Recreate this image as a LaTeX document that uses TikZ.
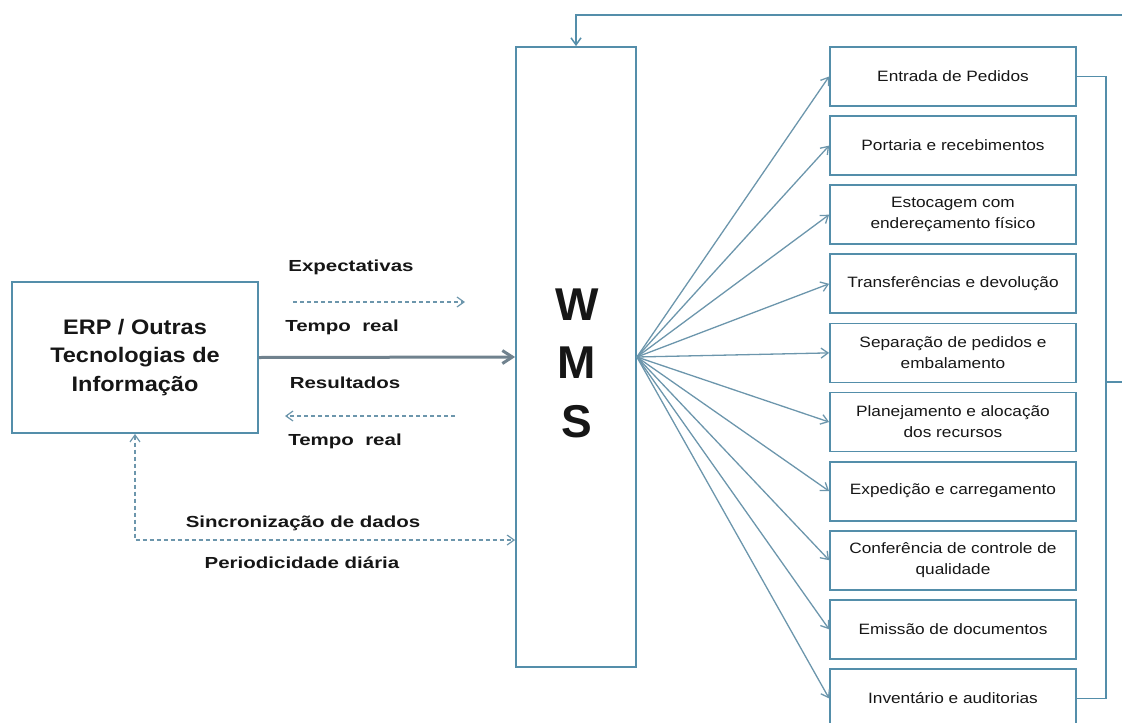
\documentclass[tikz,border=0pt]{standalone}
\usepackage{fontspec}
\setmainfont{Liberation Sans}
\newfontfamily\boxfont[FakeStretch=1.15]{Liberation Sans}
\newfontfamily\labfont[FakeStretch=1.28]{Liberation Sans}
\newfontfamily\erpfont[FakeStretch=1.12]{Liberation Sans}
\usetikzlibrary{arrows.meta}
\definecolor{edge}{RGB}{84,142,170}
\definecolor{fan}{RGB}{108,150,172}
\definecolor{mainarr}{RGB}{112,130,142}
\definecolor{ink}{RGB}{22,22,22}
\begin{document}
\begin{tikzpicture}[x=1pt,y=-1pt,
  box/.style={draw=edge, line width=1.8pt, minimum width=246pt, minimum height=59pt,
    inner sep=0pt, align=center, text=ink, font=\boxfont\fontsize{15}{21}\selectfont},
  barb/.style={Straight Barb[length=7pt,width=10pt]},
  fanarrow/.style={draw=fan, line width=1.3pt, -{Straight Barb[length=7pt,width=10pt]}},
  dasharrow/.style={draw=fan, line width=1.2pt, dash pattern=on 4pt off 3pt},
  link/.style={draw=edge, line width=1.5pt},
  lab/.style={text=ink, inner sep=0pt, font=\labfont\bfseries\fontsize{16}{18}\selectfont},
]
\useasboundingbox (0,0) rectangle (1122,723);

% ERP and WMS blocks
\node[draw=edge, line width=1.8pt, minimum width=246pt, minimum height=151pt, align=center,
      text=ink, font=\erpfont\bfseries\fontsize{21}{28.5}\selectfont]
  (erp) at (135,357.5) {ERP / Outras\\Tecnologias de\\Informação};
\node[draw=edge, line width=1.8pt, minimum width=120pt, minimum height=620pt]
  (wms) at (576,357) {};
\node[text=ink, align=center, font=\bfseries\fontsize{46}{58.5}\selectfont]
  (wmslabel) at (577,363) {W\\M\\S};

% WMS functions
\node[box] (b1)  at (953,76.5)  {Entrada de Pedidos};
\node[box] (b2)  at (953,145.6) {Portaria e recebimentos};
\node[box] (b3)  at (953,214.7) {Estocagem com\\endereçamento físico};
\node[box] (b4)  at (953,283.8) {Transferências e devolução};
\node[box] (b5)  at (953,352.9) {Separação de pedidos e\\embalamento};
\node[box] (b6)  at (953,422)   {Planejamento e alocação\\dos recursos};
\node[box] (b7)  at (953,491.1) {Expedição e carregamento};
\node[box] (b8)  at (953,560.2) {Conferência de controle de\\qualidade};
\node[box] (b9)  at (953,629.3) {Emissão de documentos};
\node[box] (b10) at (953,698.4) {Inventário e auditorias};

% fan of arrows from WMS
\foreach \i in {1,...,10}
  \draw[fanarrow] (wms.east) -- (b\i.west);

% return bus and feedback to WMS
\coordinate (bustap) at (1105,382);
\coordinate (busout) at (1122,382);
\coordinate (topright) at (1122,15);
\draw[link] (b1.east) -- ++(29,0) |- (b10.east);
\draw[link] (bustap) -- (busout);
\draw[link, -{Straight Barb[length=7pt,width=10pt]}] (topright) -| (wms.north);

% main real-time link
\draw[draw=mainarr, line width=3pt, -{Straight Barb[length=10pt,width=13pt]}] (erp.east) -- (wms.west);

% real-time flows
\coordinate (ea) at (293,302);
\coordinate (eb) at (465,302);
\coordinate (ra) at (455,416);
\coordinate (rb) at (285,416);
\draw[dasharrow, -{Straight Barb[length=7pt,width=10pt]}] (ea) -- (eb);
\draw[dasharrow, -{Straight Barb[length=7pt,width=10pt]}] (ra) -- (rb);
\node[lab] (l1) at (351,267) {Expectativas};
\node[lab] (l2) at (342,327) {Tempo\ \ real};
\node[lab] (l3) at (345,383) {Resultados};
\node[lab] (l4) at (345,441) {Tempo\ \ real};

% daily synchronisation
\coordinate (sync) at (135,540);
\draw[dasharrow, {Straight Barb[length=7pt,width=10pt]}-{Straight Barb[length=7pt,width=10pt]}]
  (erp.south) -- (sync) -- (wms.west |- sync);
\node[lab] (l5) at (303,523) {Sincronização de dados};
\node[lab] (l6) at (302,563) {Periodicidade diária};
\end{tikzpicture}
\end{document}
